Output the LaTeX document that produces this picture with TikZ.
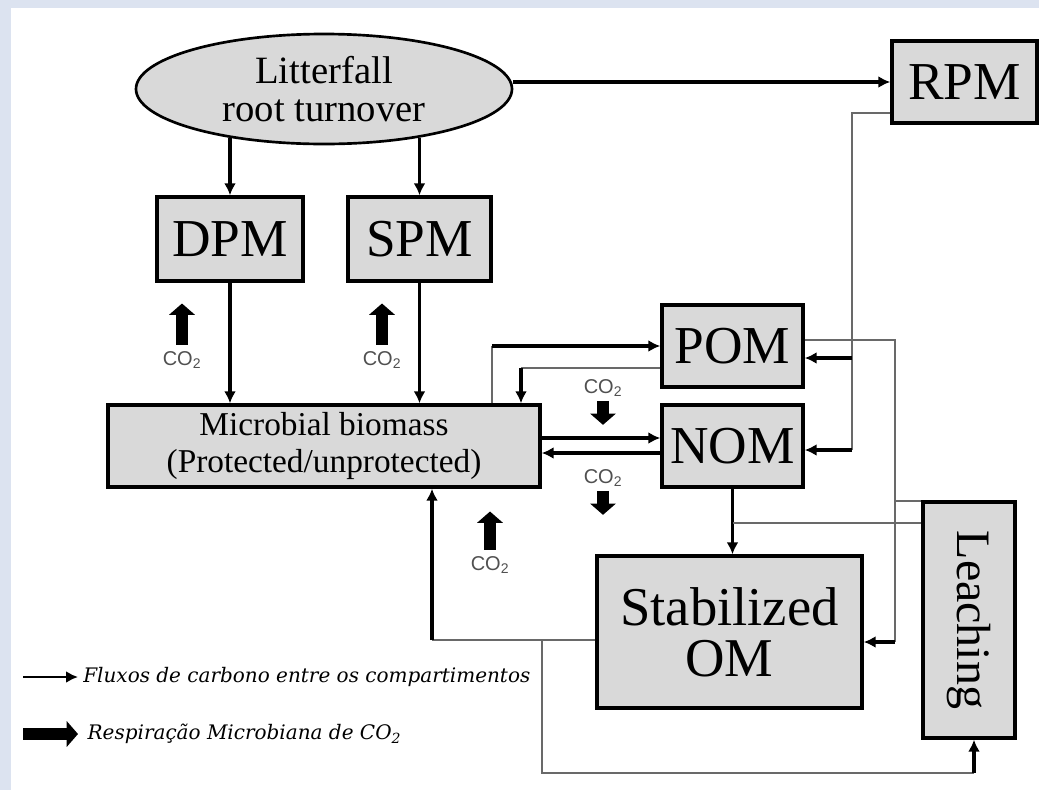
\documentclass[tikz,border=0pt]{standalone}
\usepackage{fontspec}
\setmainfont{Liberation Serif}
\newfontfamily\cofont{Liberation Sans}
\newfontfamily\legfont{DejaVu Serif}
\usepackage{xcolor}
\usepackage{tikz}
\usetikzlibrary{arrows.meta,shapes.geometric}

\definecolor{boxgray}{RGB}{217,217,217}
\definecolor{bgblue}{RGB}{220,227,240}
\definecolor{linkgray}{RGB}{105,105,105}
\definecolor{cogray}{RGB}{80,80,80}

\tikzset{
	box/.style={draw=black,line width=2.6pt,fill=boxgray,inner sep=0pt,align=center,font=\fontsize{40}{40}\selectfont},
	flux/.style={line width=2.6pt,-{Latex[length=9pt,width=9pt]}},
	link/.style={draw=linkgray,line width=1.3pt},
	resp/.style={line width=8.5pt,-{Triangle[length=8.5pt,width=19pt]}},
	co/.style={font=\cofont\fontsize{15}{15}\selectfont,text=cogray,inner sep=0pt},
	legend/.style={right,inner sep=0pt,font=\legfont\itshape\fontsize{15}{15}\selectfont}
}

\begin{document}
\begin{tikzpicture}[x=0.75pt,y=-0.75pt]
			\fill[bgblue] (0,0) rectangle (1039,790);
			\fill[white] (11,8) rectangle (1039,790);
			\useasboundingbox (0,0) rectangle (1039,790);

			\node(lit)[ellipse,draw,line width=2pt,fill=boxgray,minimum width=282pt,minimum height=82.5pt,inner sep=0pt,align=center,font=\fontsize{29}{29}\selectfont] at (324,89) {Litterfall\\root turnover};
			\node(rpm)[box,minimum width=108.75pt,minimum height=61.5pt] at (964.5,82) {RPM};
			\node(dpm)[box,minimum width=109.5pt,minimum height=63pt] at (230,239) {DPM};
			\node(spm)[box,minimum width=107.25pt,minimum height=63pt] at (419.5,239) {SPM};
			\node(micro)[box,minimum width=324pt,minimum height=61.5pt,font=\fontsize{25}{28}\selectfont] at (324,446) {Microbial biomass\\(Protected/unprotected)};
			\node(pom)[box,minimum width=105.75pt,minimum height=61.5pt] at (732.5,346) {POM};
			\node(nom)[box,minimum width=105.75pt,minimum height=61.5pt] at (732.5,446) {NOM};
			\node(stab)[box,minimum width=198.75pt,minimum height=114pt,font=\fontsize{41}{38}\selectfont] at (729.5,632) {Stabilized\\OM};
			\node(leach)[box,rotate=-90,minimum width=177pt,minimum height=69pt,font=\fontsize{36}{36}\selectfont] at (969,620) {Leaching};

			\draw[flux] (lit.east |- rpm) -- (rpm.west);
			\draw[flux] (dpm.north |- lit.207) -- (dpm.north);
			\draw[flux] (spm.north |- lit.333) -- (spm.north);
			\draw[flux] (dpm.south) -- (dpm.south |- micro.north);
			\draw[flux] (spm.south) -- (spm.south |- micro.north);

			\coordinate (mp) at (492,346);
			\draw[link] (micro.north -| mp) -- (mp);
			\draw[flux] (mp) -- (pom.west |- mp);
			\coordinate (pm) at (521,368);
			\draw[link] (pom.west |- pm) -- (pm);
			\draw[flux] (pm) -- (pm |- micro.north);
			\draw[flux] ([yshift=6pt]micro.east) -- ([yshift=6pt]nom.west);
			\draw[flux] ([yshift=-5.25pt]nom.west) -- ([yshift=-5.25pt]micro.east);

			\coordinate (r1) at (852,113);
			\coordinate (r2) at (852,358);
			\coordinate (r3) at (852,450);
			\draw[link] (rpm.west |- r1) -- (r1) -- (r3);
			\draw[flux] (r2) -- (pom.east |- r2);
			\draw[flux] (r3) -- (nom.east |- r3);

			\coordinate (p1) at (895,340);
			\coordinate (p2) at (895,501);
			\coordinate (p3) at (895,642);
			\draw[link] (pom.east |- p1) -- (p1) -- (p3);
			\draw[link] (p2) -- (leach.south |- p2);
			\draw[flux] (p3) -- (stab.east |- p3);

			\draw[flux] (nom.south) -- (nom.south |- stab.north);
			\coordinate (n1) at (732.5,523);
			\draw[link] (n1) -- (leach.south |- n1);

			\coordinate (s1) at (432,640);
			\coordinate (s2) at (542,640);
			\coordinate (s3) at (542,773);
			\coordinate (s4) at (974,773);
			\draw[link] (stab.west |- s1) -- (s1);
			\draw[flux] (s1) -- (s1 |- micro.south);
			\draw[link] (s2) -- (s3) -- (s4);
			\draw[flux] (s4) -- (s4 |- leach.east);

			\node(co1)[co] at (182,360) {CO\textsubscript{2}};
			\node(co2)[co] at (382,360) {CO\textsubscript{2}};
			\node(co3)[co] at (603,388) {CO\textsubscript{2}};
			\node(co4)[co] at (603,478) {CO\textsubscript{2}};
			\node(co5)[co] at (490,565) {CO\textsubscript{2}};
			\draw[resp] ([yshift=5pt]co1.north) -- ++(0,-41);
			\draw[resp] ([yshift=5pt]co2.north) -- ++(0,-41);
			\draw[resp] ([yshift=-3pt]co3.south) -- ++(0,24);
			\draw[resp] ([yshift=-3pt]co4.south) -- ++(0,24);
			\draw[resp] ([yshift=5pt]co5.north) -- ++(0,-38);

			\coordinate (l1) at (23,677);
			\coordinate (l2) at (23,734);
			\draw[line width=2pt,-{Latex[length=9pt,width=9pt]}] (l1) -- ++(55,0) node(leg1)[legend,xshift=3pt] {Fluxos de carbono entre os compartimentos};
			\draw[resp] (l2) -- ++(55,0) node(leg2)[legend,xshift=3pt] {Respiração Microbiana de CO\textsubscript{2}};
		\end{tikzpicture}
\end{document}
